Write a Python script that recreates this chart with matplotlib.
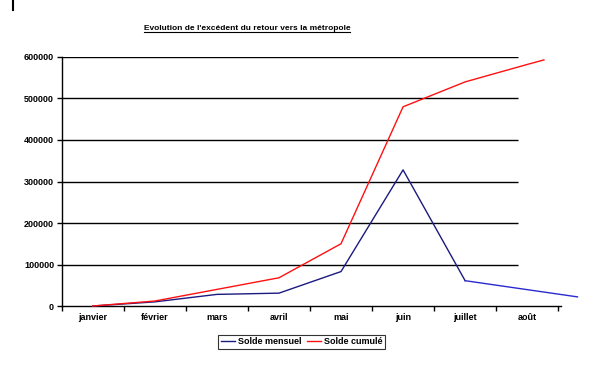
import matplotlib
matplotlib.use("Agg")
import matplotlib.pyplot as plt
from matplotlib import rcParams
from matplotlib.lines import Line2D

rcParams.update({
    "font.family": ["Liberation Sans", "DejaVu Sans"],
    "font.size": 6.5,
    "font.weight": "bold",
})

months = ["janvier", "février", "mars", "avril", "mai", "juin", "juillet", "août"]
y_ticks = [0, 100000, 200000, 300000, 400000, 500000, 600000]

# positions in category units (the lines run past the last category)
mensuel_x = [0, 1, 2, 3, 4, 5, 6, 7.81]
mensuel = [0, 10000, 28000, 31000, 83000, 328000, 61000, 22000]
cumule_x = [0, 1, 2, 3, 4, 5, 6, 7, 7.27]
cumule = [0, 12000, 40000, 68000, 150000, 480000, 540000, 582000, 593000]

C_MENS = "#1a1a80"
C_MENS_TAIL = "#2a2ad0"
C_CUM = "#ff1010"

fig = plt.figure(figsize=(6.13, 3.73), dpi=100)
ax = fig.add_axes([0.1007, 0.1796, 0.815, 0.6676])

# gridlines stop short of the axis end, as in the original sheet
ax.hlines(y_ticks[1:], -0.5, 6.85, color="black", linewidth=1.0, zorder=1)

ax.plot(mensuel_x[:7], mensuel[:7], color=C_MENS, linewidth=1.0, clip_on=False, zorder=3)
ax.plot(mensuel_x[6:], mensuel[6:], color=C_MENS_TAIL, linewidth=1.0, clip_on=False, zorder=3)
ax.plot(cumule_x, cumule, color=C_CUM, linewidth=1.0, clip_on=False, zorder=3)

ax.set_xlim(-0.5, 7.55)
ax.set_ylim(0, 600000)
ax.set_yticks(y_ticks)
ax.set_yticklabels([str(v) for v in y_ticks])
ax.set_xticks(range(len(months)))
ax.set_xticklabels(months)
ax.set_xticks([i - 0.5 for i in range(len(months) + 1)], minor=True)
ax.tick_params(axis="x", which="major", length=0, pad=5)
ax.tick_params(axis="x", which="minor", length=3.5, width=1.0, direction="out")
ax.tick_params(axis="y", length=3.5, width=1.0, direction="out", pad=2)

for s in ("top", "right"):
    ax.spines[s].set_visible(False)
for s in ("left", "bottom"):
    ax.spines[s].set_linewidth(1.0)

# title, underlined
title = fig.text(247 / 613, 1 - 28 / 373, "Evolution de l'excédent du retour vers la métropole",
                 ha="center", va="center", fontsize=6,
                 family=["Liberation Sans Narrow", "Liberation Sans"], weight="bold")
fig.canvas.draw()
bb = title.get_window_extent().transformed(fig.transFigure.inverted())
fig.add_artist(Line2D([bb.x0, bb.x1], [bb.y0 - 0.002, bb.y0 - 0.002],
                      color="black", linewidth=0.8, transform=fig.transFigure))

# small mark at the top-left corner
fig.add_artist(Line2D([13 / 613, 13 / 613], [1.0, 1 - 10 / 373],
                      color="black", linewidth=1.5, transform=fig.transFigure))

handles = [Line2D([0], [0], color=C_MENS, linewidth=1.0),
           Line2D([0], [0], color=C_CUM, linewidth=1.0)]
leg = fig.legend(handles, ["Solde mensuel", "Solde cumulé"], loc="center",
                 bbox_to_anchor=(301.5 / 613, 1 - 342 / 373), ncol=2,
                 frameon=True, fancybox=False, handlelength=1.6,
                 handletextpad=0.3, columnspacing=0.6, borderpad=0.25,
                 fontsize=6.5)
leg.get_frame().set_edgecolor("black")
leg.get_frame().set_linewidth(0.8)

fig.savefig("out.png", dpi=100, facecolor="white")
